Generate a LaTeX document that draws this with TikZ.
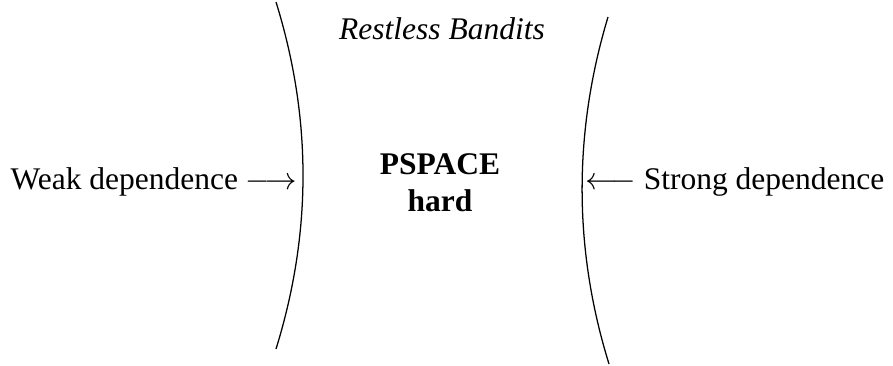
\documentclass[tikz,border=0pt]{standalone}
\usepackage{fontspec}
\setmainfont{Liberation Serif}
\begin{document}
\begin{tikzpicture}[x=0.3175pt,y=-0.3175pt,
  lbl/.style={inner sep=0pt, font=\fontsize{10}{12}\selectfont},
  boundary/.style={line width=0.4pt}]
\useasboundingbox (0,0) rectangle (893,366);
\node[lbl, anchor=base west] (weak) at (10,190) {Weak dependence $\longrightarrow$};
\node[lbl, anchor=base east] (strong) at (885,190) {$\longleftarrow$ Strong dependence};
\node[lbl, anchor=base] (title) at (442,40) {\textit{Restless Bandits}};
\node[lbl, anchor=base] (pspace) at (440,175) {\textbf{PSPACE}};
\node[lbl, anchor=base] (hard) at (440,212) {\textbf{hard}};
\draw[boundary] (276,2) .. controls (312,118) and (312,233) .. (276,349);
\draw[boundary] (608,17) .. controls (573.3,132) and (573.3,249) .. (609,364);
\end{tikzpicture}
\end{document}
